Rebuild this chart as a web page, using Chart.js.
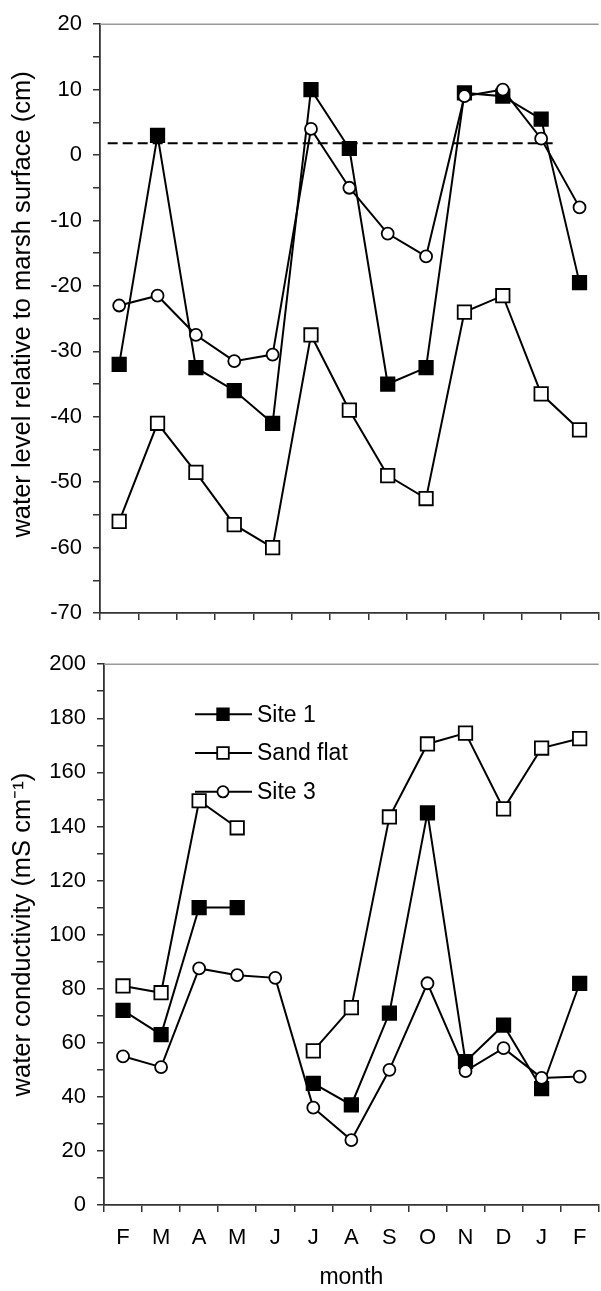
<!DOCTYPE html>
<html>
<head>
<meta charset="utf-8">
<script src="https://cdn.jsdelivr.net/npm/chart.js@4.4.1/dist/chart.umd.min.js"></script>
<style>
  html, body { margin: 0; padding: 0; background: #fff; overflow: hidden; }
  #wrap { position: relative; width: 601px; height: 1291px; overflow: hidden; }
  .panel { position: absolute; left: 0; }
  #top { top: 0; }
  #bottom { top: 640px; }
</style>
</head>
<body>
<div id="wrap">
  <div class="panel" id="top"><canvas id="levelChart" width="610" height="640"></canvas></div>
  <div class="panel" id="bottom"><canvas id="condChart" width="610" height="651"></canvas></div>
</div>
<script>
const months = ["F", "M", "A", "M", "J", "J", "A", "S", "O", "N", "D", "J", "F"];

// water level relative to marsh surface (cm)
const levelSite1 = [-32, 3, -32.5, -36, -41, 10, 1, -35, -32.5, 9.5, 9, 5.5, -19.5];
const levelSandFlat = [-56, -41, -48.5, -56.5, -60, -27.5, -39, -49, -52.5, -24, -21.5, -36.5, -42];
const levelSite3 = [-23, -21.5, -27.5, -31.5, -30.5, 4, -5, -12, -15.5, 9, 10, 2.5, -8];

// dashed marsh reference line (x in month index units)
const marshX = [-0.3, 11.3];
const marshY = [1.8, 1.8];

// water conductivity (mS cm-1)
const condSite1 = [72, 63, 110, 110, null, 45, 37, 71, 145, 53, 66.5, 43, 82];
const condSandFlat = [81, 78.5, 149.5, 139.5, null, 57, 73, 143.5, 170.5, 174.5, 146.5, 169, 172.5];
const condSite3 = [55, 51, 87.5, 85, 84, 36, 24, 50, 82, 49.5, 58, 47, 47.5];

const axisColor = "#333";
const fontFamily = '"Liberation Sans", Arial, sans-serif';
Chart.defaults.font.family = fontFamily;
Chart.defaults.color = "#000";

function series(label, data, style, fill, order) {
  return {
    label: label,
    data: data,
    borderColor: "#000",
    borderWidth: 2,
    tension: 0,
    pointStyle: style,
    pointRadius: style === "rect" ? 9.5 : 6,
    pointBackgroundColor: fill,
    pointBorderColor: "#000",
    pointBorderWidth: 1.8,
    order: order,
  };
}

// thin grey frame line along the top of each plot
const topFrame = {
  id: "topFrame",
  afterDraw(chart) {
    const { ctx, chartArea } = chart;
    ctx.save();
    ctx.strokeStyle = "#999";
    ctx.lineWidth = 1.5;
    ctx.beginPath();
    ctx.moveTo(chartArea.left, chartArea.top);
    ctx.lineTo(chartArea.right, chartArea.top);
    ctx.stroke();
    ctx.restore();
  },
};

// legend drawn as line - marker - line, like the original
const siteLegend = {
  id: "siteLegend",
  afterDatasetsDraw(chart) {
    const { ctx, chartArea } = chart;
    ctx.save();
    chart.data.datasets.forEach((ds, i) => {
      const y = chartArea.top + 50 + i * 38.8;
      const x0 = chartArea.left + 91;
      ctx.strokeStyle = "#000";
      ctx.lineWidth = 2;
      ctx.beginPath();
      ctx.moveTo(x0, y);
      ctx.lineTo(x0 + 57, y);
      ctx.stroke();
      ctx.fillStyle = ds.pointBackgroundColor;
      ctx.lineWidth = ds.pointBorderWidth;
      Chart.helpers.drawPoint(
        ctx,
        { pointStyle: ds.pointStyle, radius: ds.pointStyle === "rect" ? 8.2 : 5.6, borderWidth: ds.pointBorderWidth, rotation: 0 },
        x0 + 28,
        y
      );
      ctx.fillStyle = "#000";
      ctx.font = "23px " + fontFamily;
      ctx.textBaseline = "middle";
      ctx.textAlign = "left";
      ctx.fillText(ds.label, x0 + 62, y + 1);
    });
    ctx.restore();
  },
};

function xScale(showLabels, height) {
  return {
    type: "category",
    offset: true,
    grid: { offset: true, drawOnChartArea: false, tickLength: 7, color: axisColor, lineWidth: 1.5 },
    border: { color: axisColor, width: 1.8 },
    ticks: { display: showLabels, font: { size: 22 }, padding: 13, maxRotation: 0, autoSkip: false },
    title: { display: showLabels, text: "month", font: { size: 23 }, padding: { top: 0, bottom: 0 } },
    afterFit: (s) => { s.height = height; },
  };
}

function yScale(min, max, step, labelEvery, title, width) {
  return {
    min: min,
    max: max,
    ticks: {
      stepSize: step,
      autoSkip: false,
      padding: 11,
      font: { size: 22 },
      callback: (v) => (Math.round(v) % labelEvery === 0 ? v : ""),
    },
    grid: { drawOnChartArea: false, tickLength: 7, color: axisColor, lineWidth: 1.5 },
    border: { color: axisColor, width: 1.8 },
    title: { display: true, text: title, font: { size: 25.5 }, padding: { top: 8, bottom: 0 } },
    afterFit: (s) => { s.width = width; },
  };
}

new Chart(document.getElementById("levelChart"), {
  type: "line",
  data: {
    labels: months,
    datasets: [
      series("Site 1", levelSite1, "rect", "#000", 2),
      series("Sand flat", levelSandFlat, "rect", "#fff", 1),
      series("Site 3", levelSite3, "circle", "#fff", 0),
      {
        label: "marsh surface",
        data: marshX.map((x, i) => ({ x: x, y: marshY[i] })),
        xAxisID: "xd",
        borderColor: "#000",
        borderWidth: 2,
        borderDash: [10, 5],
        pointRadius: 0,
        order: 3,
      },
    ],
  },
  options: {
    responsive: false,
    animation: false,
    layout: { padding: { top: 17, right: 3, left: 0, bottom: 0 } },
    plugins: { legend: { display: false }, tooltip: { enabled: false } },
    scales: {
      x: xScale(false, 27),
      xd: { type: "linear", display: false, min: -0.5, max: 12.5 },
      // leading spaces nudge the rotated title up, as in the original
      y: yScale(-70, 20, 5, 10, "    water level relative to marsh surface (cm)", 100),
    },
  },
  plugins: [topFrame],
});

new Chart(document.getElementById("condChart"), {
  type: "line",
  data: {
    labels: months,
    datasets: [
      series("Site 1", condSite1, "rect", "#000", 2),
      series("Sand flat", condSandFlat, "rect", "#fff", 1),
      series("Site 3", condSite3, "circle", "#fff", 0),
    ],
  },
  options: {
    responsive: false,
    animation: false,
    layout: { padding: { top: 12, right: 4, left: 0, bottom: 0 } },
    plugins: { legend: { display: false }, tooltip: { enabled: false } },
    scales: {
      x: xScale(true, 86),
      y: yScale(0, 200, 10, 20, "water conductivity (mS cm\u207B\u00B9)", 104),
    },
  },
  plugins: [topFrame, siteLegend],
});
</script>
</body>
</html>
